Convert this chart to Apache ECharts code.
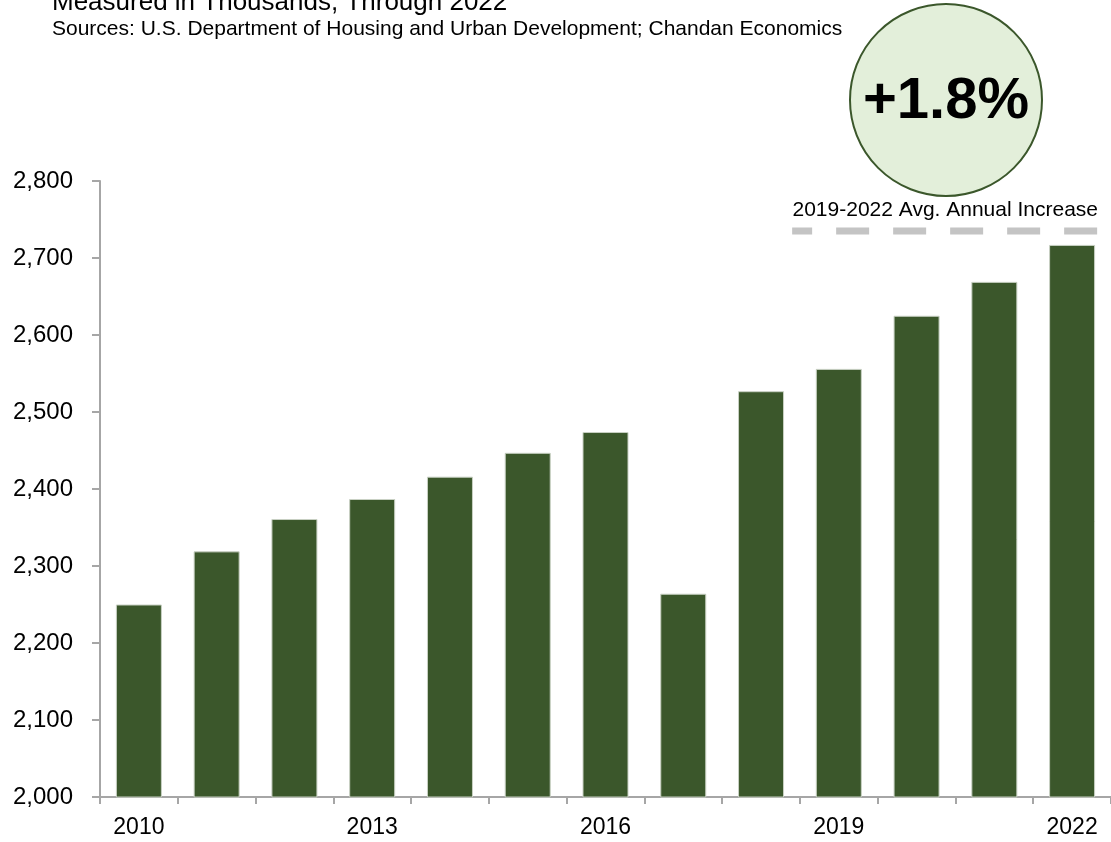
<!DOCTYPE html>
<html>
<head>
<meta charset="utf-8">
<script src="https://cdn.jsdelivr.net/npm/echarts@6/dist/echarts.min.js"></script>
<style>html,body{margin:0;padding:0;background:#fff}#c{width:1111px;height:842px}</style>
</head>
<body>
<div id="c"></div>
<script>
const years = ['2010','2011','2012','2013','2014','2015','2016','2017','2018','2019','2020','2021','2022'];
const units = [2250, 2319, 2361, 2387, 2416, 2447, 2474, 2264, 2527, 2556, 2625, 2669, 2717];
const yTicks = [2000, 2800, 100];
const avgLineX = [8.4, 12.35];
const avgLineY = 2735;
const avgLabel = '2019-2022 Avg. Annual Increase';
const avgValue = '+1.8%';
const titleText = 'Measured in Thousands, Through 2022';
const sourceText = 'Sources: U.S. Department of Housing and Urban Development; Chandan Economics';

const FONT = '"Liberation Sans", Arial, Helvetica, sans-serif';
const chart = echarts.init(document.getElementById('c'));
chart.setOption({
  animation: false,
  textStyle: {fontFamily: FONT},
  grid: {left: 100, top: 181, bottom: 45, width: 1013},
  xAxis: [{
    type: 'category', data: years,
    axisLine: {lineStyle: {color: '#a6a6a6', width: 2}},
    axisTick: {show: true, length: 7, lineStyle: {color: '#a6a6a6', width: 2}, alignWithLabel: false, interval: 0},
    axisLabel: {interval: 2, color: '#000', fontSize: 23, margin: 19, fontFamily: FONT}
  }, {
    type: 'value', min: -0.5, max: 12.5, show: false
  }],
  yAxis: {
    type: 'value', min: yTicks[0], max: yTicks[1], interval: yTicks[2],
    splitLine: {show: false},
    axisLine: {show: true, onZero: false, lineStyle: {color: '#a6a6a6', width: 2}},
    axisTick: {show: true, length: 8, lineStyle: {color: '#a6a6a6', width: 2}},
    axisLabel: {color: '#000', fontSize: 24, margin: 27, fontFamily: FONT,
      formatter: v => v.toLocaleString('en-US')}
  },
  series: [{
    type: 'bar', data: units, barWidth: 46,
    itemStyle: {color: '#3b572b', borderColor: '#c9d1c4', borderWidth: 1}
  }, {
    type: 'line', xAxisIndex: 1, symbol: 'none',
    data: avgLineX.map(x => [x, avgLineY]),
    lineStyle: {color: '#c4c4c4', width: 7, type: [33, 24], dashOffset: 13, cap: 'butt'}
  }],
  graphic: [
    {type: 'text', left: 52, top: -10, style: {text: titleText, font: '26px ' + FONT, fill: '#000'}},
    {type: 'text', left: 52, top: 19, style: {text: sourceText, font: '21px ' + FONT, fill: '#000'}},
    {type: 'circle', shape: {cx: 946, cy: 100, r: 96}, style: {fill: '#e3efda', stroke: '#3b572b', lineWidth: 2}},
    {type: 'text', x: 946, y: 102, style: {text: avgValue, font: 'bold 58px ' + FONT, fill: '#000', align: 'center', verticalAlign: 'middle'}},
    {type: 'text', x: 1098, y: 210, style: {text: avgLabel, font: '21px ' + FONT, fill: '#000', align: 'right', verticalAlign: 'middle'}}
  ]
});
</script>
</body>
</html>
